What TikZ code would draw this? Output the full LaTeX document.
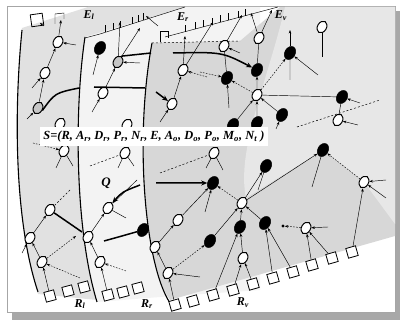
\documentclass[tikz,border=0pt]{standalone}
\usepackage{fontspec}
\setmainfont{Liberation Serif}
\usepackage{graphicx}
\usetikzlibrary{shapes.geometric,arrows.meta}
\definecolor{lp}{HTML}{E1E1E1}
\definecolor{mp}{HTML}{F3F3F3}
\definecolor{rp}{HTML}{D7D7D7}
\definecolor{rl}{HTML}{E7E7E7}
\definecolor{sh}{HTML}{A8A8A8}
\tikzset{
  wn/.style={ellipse, draw=black, line width=1pt, fill=white, minimum width=9pt, minimum height=12.5pt, inner sep=0pt, rotate=-30},
  bn/.style={ellipse, draw=black, fill=black, minimum width=10.5pt, minimum height=14pt, inner sep=0pt, rotate=-30},
  gn/.style={wn, fill=gray!45},
  ed/.style={line width=0.45pt, -{Stealth[length=3.5pt,width=2.6pt]}},
  dl/.style={ed, dash pattern=on 1.6pt off 1.4pt},
  ln/.style={line width=0.45pt},
  dsh/.style={line width=0.5pt, dash pattern=on 2pt off 2pt},
  tk/.style={line width=1.5pt},
  tka/.style={tk, -{Stealth[length=6pt,width=5pt]}},
  pe/.style={line width=1.1pt},
  bx/.style={draw, line width=0.8pt, fill=white, minimum size=10pt, inner sep=0pt, rotate=15},
  lab/.style={inner sep=0pt, font=\fontsize{12}{12}\selectfont\bfseries\itshape},
}
\begin{document}
\begin{tikzpicture}[x=1pt,y=-1pt]
\useasboundingbox (0,0) rectangle (400,320);
% background, shadow, frame
\fill[white] (0,0) rectangle (400,320);
\fill[sh] (12,312) rectangle (400,320);
\fill[sh] (395,11) rectangle (400,320);
\draw[gray!70, line width=0.8pt] (7,6) rectangle (395,312);
% left panel
\fill[lp] (22,28) -- (88,7) -- (200,7) -- (200,285) -- (97,300) -- (38,294)
  .. controls (14,220) and (14,110) .. (22,28) -- cycle;
\draw[pe] (22,30) .. controls (14,110) and (14,220) .. (38,292);
% middle panel
\fill[mp] (85,37) -- (185,7) -- (260,7) -- (260,290) -- (160,297) -- (97,302)
  .. controls (75,230) and (74,110) .. (85,37) -- cycle;
\draw[pe] (85,37) .. controls (74,110) and (75,230) .. (97,302);
\draw[ln] (85,38) -- (100,34);
% right panel
\fill[rp] (152,43) -- (240,41) -- (280,7) -- (395,7) -- (395,236) -- (170,300)
  .. controls (145,265) and (134,140) .. (152,43) -- cycle;
\fill[rl] (285,7) -- (395,7) -- (395,224) -- (364,182) -- (323,150) -- (246,198)
  .. controls (236,150) and (268,80) .. (285,7) -- cycle;
\draw[pe] (152,43) .. controls (134,140) and (145,265) .. (170,303);
\draw[dsh] (152,43) -- (240,41);
% top stub lines
\draw[ln] (100,34) -- (185,7);
\foreach \x in {105,113,120,132,138,143}
  \draw[ln] (\x,{34-(\x-100)*0.3176}) -- ++(0,-7);
\draw[ln] (165,37) -- (278,7);
\foreach \x in {185,195,203,212,220,228,238,245}
  \draw[ln] (\x,{37-(\x-165)*0.2655}) -- ++(0,-7);
\draw[ln] (160,42) -- (160,31) -- (168,31) -- (168,38);
\node[draw, line width=0.8pt, minimum size=12pt, inner sep=0pt, rotate=8] (TB) at (37,20) {};
\draw[ln] (55,24) -- (55,14) -- (64,13) -- (64,19);
\coordinate (tb1) at (158,26);
\coordinate (tb2) at (146,16);
\draw[ed] (tb1) -- (tb2);
\coordinate (tb3) at (44,26);
\coordinate (tb4) at (40,23);
\draw[ed] (tb3) -- (tb4);

% ---------- left panel nodes ----------
\node[wn] (L1) at (58,42) {};
\node[wn] (L2) at (45,73) {};
\node[gn] (L3) at (38,108) {};
\node[wn] (L4) at (60,124) {};
\node[wn] (L5) at (64,151) {};
\node[wn] (L6) at (50,210) {};
\node[wn] (L7) at (30,238) {};
\node[wn] (L8) at (42,262) {};
\node[bx] (LB1) at (50,296) {};
\node[bx] (LB2) at (68,291) {};
\node[bx] (LB3) at (84,287) {};
\coordinate (l1a) at (76,45);
\coordinate (lt1) at (61,20);
\coordinate (l2a) at (32,88);
\coordinate (l3a) at (27,119);
\coordinate (lt3) at (79,88);
\coordinate (l5a) at (33,143);
\coordinate (l5b) at (56,168);
\coordinate (l5c) at (73,166);
\coordinate (l6a) at (70,190);
\coordinate (l6t) at (82,232);
\coordinate (l7a) at (22,253);
\coordinate (l8a) at (80,278);
\coordinate (l8b) at (76,236);
\draw[ed] (l1a) -- (L1);
\draw[ed] (L1) -- (lt1);
\draw[ed] (L2) -- (L1);
\draw[ed] (l2a) -- (L2);
\draw[ed] (L3) -- (L2);
\draw[ed] (l3a) -- (L3);
\draw[tk] (L3.east) .. controls (55,93) .. (lt3);
\draw[dl] (l5a) -- (L5);
\draw[ln] (L5) -- (l5b);
\draw[ln] (L5) -- (l5c);
\draw[dsh] (l6a) -- (L6);
\draw[tk] (L6) -- (l6t);
\draw[ed] (L7) -- (L6);
\draw[ed] (L8) -- (L7);
\draw[ed] (l7a) -- (L7);
\draw[dl] (L8) -- (l8b);
\draw[dl] (l8a) -- (L8);
\draw[ed] (LB1) -- (L8);

% ---------- middle panel nodes ----------
\node[bn] (M1) at (100,48) {};
\node[gn] (M2) at (118,62) {};
\node[wn] (M3) at (103,93) {};
\node[wn] (M4) at (127,125) {};
\node[wn] (M5) at (125,153) {};
\node[wn] (M6) at (108,208) {};
\node[bn] (M7) at (143,230) {};
\node[wn] (M8) at (88,237) {};
\node[wn] (M9) at (100,262) {};
\node[bx] (MB1) at (108,295) {};
\node[bx] (MB2) at (123,292) {};
\node[bx] (MB3) at (138,288) {};
\coordinate (m1a) at (93,75);
\coordinate (m2a) at (140,63);
\coordinate (mt2) at (120,22);
\coordinate (mt2b) at (140,28);
\coordinate (mk2) at (151,53);
\coordinate (mk3a) at (94,87);
\coordinate (mk3b) at (145,88);
\coordinate (m3a) at (92,112);
\coordinate (m5a) at (90,166);
\coordinate (m5b) at (118,168);
\coordinate (m5c) at (134,166);
\coordinate (mq1) at (140,185);
\coordinate (mq2) at (137,180);
\coordinate (m6b) at (126,218);
\coordinate (mk7) at (104,241);
\coordinate (m9a) at (126,271);
\draw[ed] (m1a) -- (M1);
\draw[ed] (m2a) -- (M2);
\draw[ed] (M2) -- (mt2);
\draw[ed] (M2) -- (mt2b);
\draw[tk] (M2.north) -- (mk2);
\draw[ed] (M3) -- (M2);
\draw[tk] (mk3a) -- (mk3b);
\draw[ed] (m3a) -- (M3);
\draw[dsh] (m5a) -- (M5);
\draw[ln] (M5) -- (m5b);
\draw[ln] (M5) -- (m5c);
\draw[tka] (mq1) .. controls (122,192) .. (M6);
\draw[ln] (M6) -- (mq2);
\draw[ln] (M6) -- (m6b);
\draw[tk] (mk7) .. controls (122,236) .. (M7);
\draw[ed] (M8) -- (M6);
\draw[ed] (M9) -- (M8);
\draw[dl] (m9a) -- (M9);
\draw[ed] (MB1) -- (M9);

% ---------- right panel nodes ----------
\node[wn] (R1) at (183,70) {};
\node[wn] (R2) at (224,46) {};
\node[wn] (R3) at (259,38) {};
\node[wn] (R4) at (322,27) {};
\node[bn] (R5) at (227,78) {};
\node[bn] (R6) at (257,70) {};
\node[bn] (R7) at (290,53) {};
\node[wn] (R8) at (257,95) {};
\node[bn] (R9) at (342,97) {};
\node[wn] (R10) at (338,120) {};
\node[bn] (R11) at (282,115) {};
\node[bn] (R12) at (257,123) {};
\node[bn] (R13) at (233,125) {};
\node[wn] (R14) at (172,104) {};
\node[wn] (R15) at (214,153) {};
\node[bn] (R16) at (213,183) {};
\node[bn] (R17) at (266,166) {};
\node[wn] (R18) at (242,203) {};
\node[bn] (R19) at (323,150) {};
\node[wn] (R20) at (364,182) {};
\node[bn] (R21) at (240,227) {};
\node[bn] (R22) at (265,223) {};
\node[wn] (R23) at (306,228) {};
\node[wn] (R24) at (243,258) {};
\node[bn] (R25) at (210,241) {};
\node[wn] (R26) at (178,220) {};
\node[wn] (R27) at (155,247) {};
\node[wn] (R28) at (168,273) {};
\node[circle, fill=black, inner sep=1.1pt] (R29) at (283,226) {};
\node[bx, rotate=1] (RB1) at (175,305) {};
\node[bx, rotate=1] (RB2) at (193,301) {};
\node[bx, rotate=1] (RB3) at (213,295) {};
\node[bx, rotate=1] (RB4) at (233,290) {};
\node[bx, rotate=1] (RB5) at (253,284) {};
\node[bx, rotate=1] (RB6) at (273,278) {};
\node[bx, rotate=1] (RB7) at (293,272) {};
\node[bx, rotate=1] (RB8) at (312,265) {};
\node[bx, rotate=1] (RB9) at (332,258) {};
\node[bx, rotate=1] (RB10) at (352,252) {};
\coordinate (rt1) at (185,36);
\coordinate (rt1b) at (213,22);
\coordinate (r1a) at (207,77);
\coordinate (rk14) at (156,92);
\coordinate (r14a) at (160,122);
\coordinate (rt2) at (242,15);
\coordinate (r2a) at (240,53);
\coordinate (rt3a) at (251,13);
\coordinate (rt3b) at (272,10);
\coordinate (rk6) at (173,53);
\coordinate (r5a) at (229,108);
\coordinate (r5d) at (200,72);
\coordinate (rt7) at (290,30);
\coordinate (r7b) at (290,80);
\coordinate (r7a) at (318,75);
\coordinate (r4b) at (322,57);
\coordinate (r9a) at (360,103);
\coordinate (r10a) at (358,125);
\coordinate (rd1) at (297,127);
\coordinate (rd2) at (380,100);
\coordinate (r11a) at (276,129);
\coordinate (rd3) at (160,173);
\coordinate (r15a) at (206,168);
\coordinate (r15b) at (223,170);
\coordinate (rk16) at (156,183);
\coordinate (r16a) at (205,212);
\coordinate (r19a) at (312,187);
\coordinate (r20a) at (386,180);
\coordinate (r20b) at (386,198);
\coordinate (r23a) at (328,227);
\coordinate (r28a) at (200,277);
\coordinate (r17a) at (258,190);
\draw[ed] (R1) -- (rt1);
\draw[ed] (R1) -- (rt1b);
\draw[dl] (r1a) -- (R1);
\draw[ed] (R14) -- (R1);
\draw[tka] (rk14) -- (R14);
\draw[ed] (r14a) -- (R14);
\draw[ed] (R2) -- (rt2);
\draw[ed] (r2a) -- (R2);
\draw[ln] (R2) -- (R5);
\draw[ed] (R3) -- (rt3a);
\draw[ed] (R3) -- (rt3b);
\draw[ln] (R3) -- (R6);
\draw[ln] (R4) -- (r4b);
\draw[tka] (rk6) .. controls (222,52) .. (R6);
\draw[ed] (r5a) -- (R5);
\draw[dl] (r5d) -- (R5);
\draw[dl] (R8) -- (R5);
\draw[ed] (R8) -- (R6);
\draw[ed] (R7) -- (rt7);
\draw[ln] (R7) -- (r7b);
\draw[ed] (r7a) -- (R7);
\draw[dl] (R8) -- (R7);
\draw[ln] (R8) -- (R9);
\draw[ed] (r9a) -- (R9);
\draw[ln] (R9) -- (R10);
\draw[ed] (r10a) -- (R10);
\draw[dsh] (rd1) -- (rd2);
\draw[ed] (r11a) -- (R11);
\draw[ed] (R11) -- (R8);
\draw[ed] (R12) -- (R8);
\draw[ed] (R13) -- (R8);
\draw[dsh] (rd3) -- (R15);
\draw[ln] (R15) -- (r15a);
\draw[ln] (R15) -- (r15b);
\draw[tka] (rk16) -- (R16);
\draw[ed] (r16a) -- (R16);
\draw[dl] (R18) -- (R16);
\draw[ed] (R18) -- (R17);
\draw[ln] (R17) -- (r17a);
\draw[ed] (R18) -- (R19);
\draw[ln] (R19) -- (r19a);
\draw[dl] (R20) -- (R19);
\draw[ed] (r20a) -- (R20);
\draw[ed] (r20b) -- (R20);
\draw[ed] (RB10) -- (R20);
\draw[ed] (R21) -- (R18);
\draw[ed] (R22) -- (R18);
\draw[ed] (R25) -- (R18);
\draw[ed] (r23a) -- (R23);
\draw[dl] (R23) -- (R29);
\draw[ed] (R24) -- (R21);
\draw[ed] (RB4) -- (R24);
\draw[ed] (RB5) -- (R24);
\draw[ed] (RB3) -- (R21);
\draw[ed] (RB6) -- (R22);
\draw[ed] (RB7) -- (R22);
\draw[ed] (RB8) -- (R23);
\draw[ed] (RB9) -- (R23);
\draw[ed] (R26) -- (R16);
\draw[ed] (R27) -- (R26);
\draw[ed] (R28) -- (R27);
\draw[dl] (R28) -- (R25);
\draw[ed] (r28a) -- (R28);
\draw[ed] (RB1) -- (R28);

% ---------- formula ----------
\node[fill=white, inner sep=0pt, minimum width=228pt, minimum height=19pt] (S) at (154,136.5)
  {\resizebox{221pt}{!}{\bfseries\itshape S=(R, A\textsubscript{r}, D\textsubscript{r}, P\textsubscript{r}, N\textsubscript{r}, E, A\textsubscript{o}, D\textsubscript{o}, P\textsubscript{o}, M\textsubscript{o}, N\textsubscript{t} )}};
% ---------- labels ----------
\node[lab] (El) at (89,15) {E\textsubscript{l}};
\node[lab] (Er) at (183,17) {E\textsubscript{r}};
\node[lab] (Ev) at (281,16) {E\textsubscript{v}};
\node[lab] (Rl) at (80,304) {R\textsubscript{l}};
\node[lab] (Rr) at (147,304) {R\textsubscript{r}};
\node[lab] (Rv) at (243,303) {R\textsubscript{v}};
\node[lab, font=\fontsize{13}{13}\selectfont\bfseries\itshape] (Q) at (106,183) {Q};
\end{tikzpicture}
\end{document}
